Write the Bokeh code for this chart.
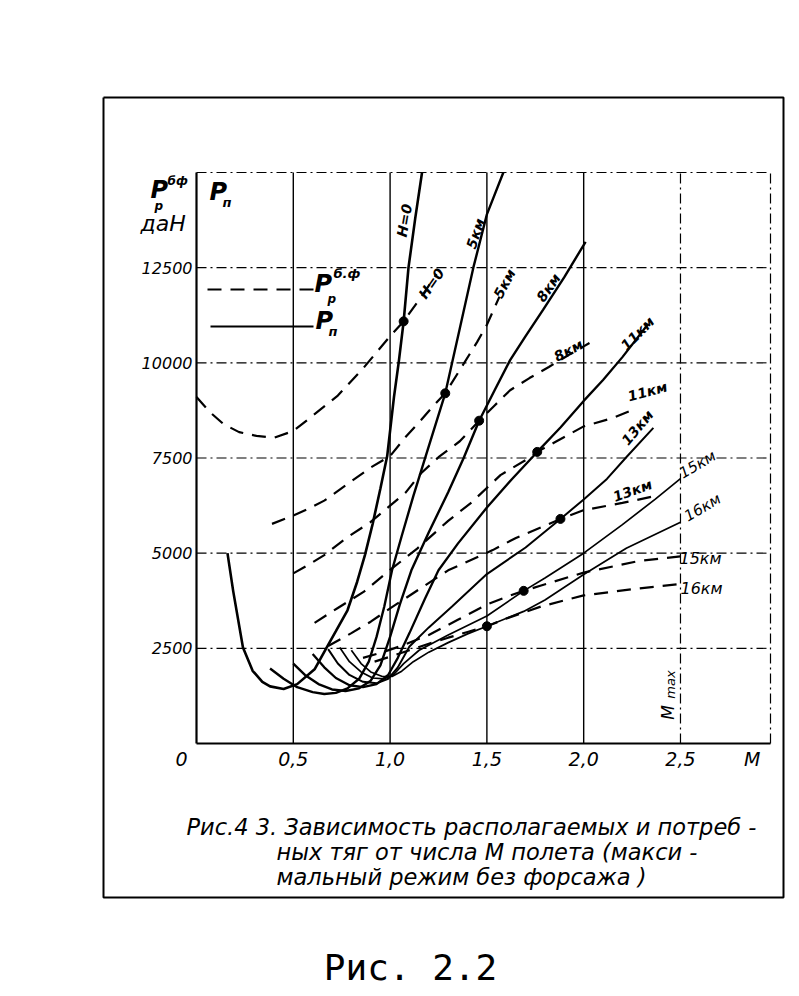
from math import radians
from bokeh.plotting import figure
from bokeh.models import Label, FixedTicker
from bokeh.embed import file_html
from bokeh.resources import INLINE

# ---------------- data ----------------
# required thrust P_n (solid), M and P [daN]
m_n_0 = [0.16, 0.19, 0.24, 0.29, 0.34, 0.38, 0.45, 0.52, 0.61, 0.67, 0.72, 0.78, 0.83, 0.87, 0.91, 0.95, 0.985, 1.02, 1.045, 1.07, 1.095, 1.13, 1.165]
p_n_0 = [5000, 3990, 2520, 1910, 1620, 1500, 1430, 1560, 1950, 2500, 2950, 3500, 4250, 4950, 5770, 6700, 7550, 9100, 10030, 11090, 12500, 13800, 15000]
m_n_5 = [0.38, 0.45, 0.52, 0.60, 0.66, 0.72, 0.78, 0.84, 0.89, 0.93, 0.97, 1.01, 1.06, 1.12, 1.19, 1.285, 1.36, 1.43, 1.50, 1.585]
p_n_5 = [1970, 1700, 1480, 1350, 1300, 1330, 1450, 1700, 2150, 2800, 3600, 4550, 5450, 6500, 7650, 9200, 10900, 12500, 13900, 15000]
m_n_8 = [0.50, 0.56, 0.63, 0.70, 0.77, 0.84, 0.90, 0.95, 1.00, 1.05, 1.11, 1.20, 1.30, 1.38, 1.46, 1.54, 1.62, 1.70, 1.79, 1.90, 2.01]
p_n_8 = [2100, 1800, 1560, 1420, 1380, 1450, 1650, 2050, 2800, 3650, 4550, 5550, 6600, 7500, 8480, 9280, 10070, 10700, 11390, 12250, 13180]
m_n_11 = [0.60, 0.66, 0.72, 0.79, 0.86, 0.93, 0.99, 1.04, 1.10, 1.18, 1.25, 1.35, 1.50, 1.63, 1.76, 1.88, 2.00, 2.10, 2.20, 2.33]
p_n_11 = [2350, 2000, 1720, 1530, 1480, 1560, 1800, 2250, 2900, 3800, 4550, 5250, 6200, 6950, 7660, 8300, 9000, 9550, 10150, 11000]
m_n_13 = [0.68, 0.73, 0.79, 0.86, 0.93, 0.99, 1.04, 1.10, 1.20, 1.32, 1.50, 1.70, 1.88, 2.00, 2.12, 2.22, 2.36]
p_n_13 = [2480, 2100, 1800, 1620, 1580, 1700, 2000, 2550, 3050, 3600, 4450, 5150, 5900, 6410, 6950, 7520, 8290]
m_n_15 = [0.74, 0.79, 0.85, 0.91, 0.97, 1.02, 1.07, 1.15, 1.30, 1.50, 1.69, 1.80, 2.00, 2.20, 2.37, 2.50]
p_n_15 = [2520, 2150, 1880, 1720, 1700, 1820, 2100, 2450, 2850, 3350, 4010, 4350, 5000, 5750, 6420, 6960]
m_n_16 = [0.80, 0.85, 0.90, 0.96, 1.01, 1.06, 1.12, 1.20, 1.30, 1.40, 1.50, 1.69, 1.80, 2.00, 2.22, 2.50]
p_n_16 = [2450, 2100, 1880, 1760, 1760, 1900, 2150, 2400, 2650, 2880, 3080, 3470, 3770, 4440, 5130, 5810]

# available thrust P_p (dashed)
m_p_0 = [0.0, 0.07, 0.14, 0.22, 0.31, 0.40, 0.50, 0.60, 0.73, 0.86, 1.00, 1.07, 1.17, 1.24]
p_p_0 = [9100, 8700, 8390, 8180, 8080, 8030, 8210, 8610, 9140, 9850, 10700, 11090, 11800, 12330]
m_p_5 = [0.39, 0.50, 0.58, 0.66, 0.78, 0.90, 1.00, 1.08, 1.16, 1.22, 1.285, 1.36, 1.45, 1.50, 1.565]
p_p_5 = [5770, 5990, 6170, 6380, 6815, 7250, 7550, 8050, 8500, 8850, 9200, 9810, 10550, 11000, 11740]
m_p_8 = [0.50, 0.58, 0.66, 0.78, 0.90, 1.00, 1.08, 1.16, 1.25, 1.36, 1.46, 1.54, 1.62, 1.72, 1.82, 1.92, 2.03]
p_p_8 = [4470, 4700, 4950, 5420, 5820, 6250, 6590, 7100, 7520, 7940, 8480, 8880, 9280, 9600, 9890, 10200, 10520]
m_p_11 = [0.61, 0.73, 0.865, 1.00, 1.14, 1.30, 1.42, 1.57, 1.71, 1.76, 1.86, 2.00, 2.15, 2.27]
p_p_11 = [3170, 3560, 3990, 4560, 5120, 5850, 6330, 7050, 7475, 7660, 7940, 8330, 8550, 8800]
m_p_13 = [0.68, 0.80, 0.90, 1.00, 1.15, 1.30, 1.53, 1.65, 1.78, 1.88, 2.00, 2.20, 2.36]
p_p_13 = [2560, 2900, 3200, 3550, 4050, 4550, 5080, 5400, 5680, 5900, 6130, 6320, 6490]
m_p_15 = [0.86, 0.95, 1.05, 1.20, 1.35, 1.50, 1.60, 1.69, 1.78, 2.00, 2.28, 2.50]
p_p_15 = [2250, 2380, 2550, 2850, 3250, 3650, 3850, 4010, 4150, 4490, 4790, 4915]
m_p_16 = [0.92, 1.00, 1.10, 1.20, 1.30, 1.40, 1.50, 1.61, 1.78, 2.00, 2.26, 2.50]
p_p_16 = [2150, 2280, 2450, 2620, 2780, 2930, 3080, 3300, 3600, 3890, 4060, 4190]

# maximum-speed points (intersections)
m_dots = [1.07, 1.285, 1.46, 1.76, 1.88, 1.69, 1.50]
p_dots = [11090, 9200, 8480, 7660, 5900, 4010, 3080]

x_ticks = [0.5, 1.0, 1.5, 2.0, 2.5, 2.87]
x_tick_labels = ["0,5", "1,0", "1,5", "2,0", "2,5", "M"]
y_ticks = [2500, 5000, 7500, 10000, 12500]
y_tick_labels = ["2500", "5000", "7500", "10000", "12500"]
x_solid_grid = [0.5, 1.0, 1.5, 2.0]
m_max_line = 2.5
X_END, Y_END = 2.965, 15000

# ---------------- layout ----------------
W, H = 791, 988                      # canvas size
CH_L, CH_R, CH_T, CH_B = 196, 770, 172, 743   # chart area in page pixels
PX_M = (CH_R - CH_L) / X_END
PX_P = (CH_B - CH_T) / Y_END


def d(ox, oy):
    """page pixel -> data coordinates (used to place texts and the frame)"""
    return ((ox - CH_L) / PX_M, (CH_B - oy) / PX_P)


x0, y1 = d(0, 0)
x1, y0 = d(W, H)

p = figure(frame_width=W, frame_height=H, min_border=0, min_border_left=0, min_border_right=0,
           min_border_top=0, min_border_bottom=0, x_range=(x0, x1), y_range=(y0, y1),
           output_backend="svg", toolbar_location=None,
           background_fill_color="white", border_fill_color="white")
p.outline_line_color = None
p.xgrid.visible = False
p.ygrid.visible = False

FONT = "DejaVu Sans"
DASHDOT = "10 4 2 4"

p.xaxis.ticker = FixedTicker(ticks=x_ticks)
p.xaxis.major_label_overrides = {t: s for t, s in zip(x_ticks, x_tick_labels)}
p.yaxis.ticker = FixedTicker(ticks=y_ticks)
p.yaxis.major_label_overrides = {t: s for t, s in zip(y_ticks, y_tick_labels)}
p.xaxis.fixed_location = 0
p.yaxis.fixed_location = 0
p.xaxis.bounds = (0, X_END)
p.yaxis.bounds = (0, Y_END)
for ax in (p.xaxis[0], p.yaxis[0]):
    ax.axis_line_width = 2.2
    ax.axis_line_color = "black"
    ax.major_tick_line_color = None
    ax.minor_tick_line_color = None
    ax.major_tick_out = 0
    ax.major_tick_in = 0
    ax.minor_tick_out = 0
    ax.minor_tick_in = 0
    ax.major_label_text_font = FONT
    ax.major_label_text_font_style = "italic"
    ax.major_label_text_color = "black"
p.xaxis.major_label_text_font_size = "19px"
p.xaxis.major_label_standoff = 4
p.yaxis.major_label_text_font_size = "16px"
p.yaxis.major_label_standoff = 4

# grid of the chart
p.segment(x0=x_solid_grid, y0=[0] * len(x_solid_grid), x1=x_solid_grid, y1=[Y_END] * len(x_solid_grid),
          line_color="black", line_width=1.4)
hl = y_ticks + [Y_END]
p.segment(x0=[0] * len(hl), y0=hl, x1=[X_END] * len(hl), y1=hl,
          line_color="black", line_width=1.1, line_dash=DASHDOT)
vl = [m_max_line, X_END]
p.segment(x0=vl, y0=[0, 0], x1=vl, y1=[Y_END, Y_END],
          line_color="black", line_width=1.2, line_dash=DASHDOT)

solid = [(m_n_0, p_n_0, 2.6), (m_n_5, p_n_5, 2.4), (m_n_8, p_n_8, 2.4), (m_n_11, p_n_11, 2.3),
         (m_n_13, p_n_13, 2.0), (m_n_15, p_n_15, 1.7), (m_n_16, p_n_16, 1.7)]
for mx, py, w in solid:
    p.line(mx, py, line_color="black", line_width=w)
dashed = [(m_p_0, p_p_0), (m_p_5, p_p_5), (m_p_8, p_p_8), (m_p_11, p_p_11),
          (m_p_13, p_p_13), (m_p_15, p_p_15), (m_p_16, p_p_16)]
for mx, py in dashed:
    p.line(mx, py, line_color="black", line_width=2.2, line_dash="14 9")
p.scatter(m_dots, p_dots, size=9, color="black")

# legend samples
(lx0, ly1), (lx1, _) = d(207, 289), d(313, 289)
p.line([lx0, lx1], [ly1, ly1], line_color="black", line_width=2.2, line_dash="14 9")
(lx0, ly2), (lx1, _) = d(210, 326), d(313, 326)
p.line([lx0, lx1], [ly2, ly2], line_color="black", line_width=2.2)

# outer frame of the figure page
(bx0, by1), (bx1, by0) = d(103, 97), d(783, 897)
p.line([bx0, bx1, bx1, bx0, bx0], [by1, by1, by0, by0, by1], line_color="black", line_width=2)


def lab(text, ox, oy, size, angle=0, align="center", baseline="middle", style="bold italic",
        font=FONT):
    x, y = d(ox, oy)
    p.add_layout(Label(x=x, y=y, text=text, text_font=font, text_font_size=f"{size}px",
                       text_font_style=style, text_align=align, text_baseline=baseline,
                       angle=radians(angle), text_color="black"))


# legend texts
lab("P", 314, 283, 24, align="left")
lab("б.ф", 333, 273, 13, align="left")
lab("р", 327, 298, 12, align="left")
lab("P", 315, 320, 24, align="left")
lab("п", 328, 331, 13, align="left")

# axis header
lab("P", 150, 189, 24, align="left")
lab("бф", 167, 180, 12, align="left")
lab("р", 154, 205, 12, align="left")
lab("даН", 140, 223, 22, align="left", style="italic")
lab("P", 209, 191, 24, align="left")
lab("п", 222, 202, 13, align="left")
lab("0", 181, 758, 19, style="italic")

# curve labels
lab("H=0", 404, 220, 14, angle=80)
lab("H=0", 431, 283, 14, angle=55)
lab("5км", 475, 233, 14, angle=72)
lab("5км", 504, 283, 14, angle=62)
lab("8км", 548, 287, 14, angle=55)
lab("8км", 568, 350, 14, angle=28)
lab("11км", 637, 333, 14, angle=45)
lab("11км", 647, 391, 14, angle=15)
lab("13км", 637, 427, 14, angle=50)
lab("13км", 632, 490, 14, angle=20)
lab("15км", 697, 464, 15, angle=30, style="italic")
lab("16км", 702, 507, 15, angle=30, style="italic")
lab("15км", 700, 558, 16, style="italic")
lab("16км", 701, 588, 16, style="italic")
lab("M", 667, 712, 17, angle=90, style="italic")
lab("max", 670, 684, 13, angle=90, style="italic")

# caption
lab("Рис.4 3.  Зависимость располагаемых и потреб -", 186, 826, 22.5, align="left", style="italic")
lab("ных тяг от числа М полета (макси -", 276, 851, 22.5, align="left", style="italic")
lab("мальный режим без форсажа )", 276, 876, 22.5, align="left", style="italic")
lab("Рис. 2.2", 410, 967, 36, style="normal", font="DejaVu Sans Mono")

open("out.html", "w").write(file_html(p, INLINE))
